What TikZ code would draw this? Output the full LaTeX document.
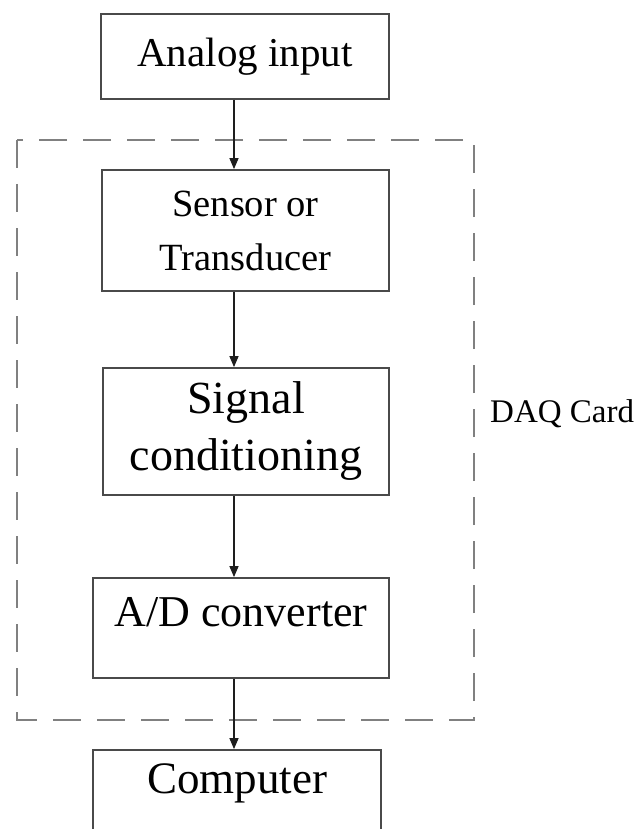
\documentclass[tikz,border=0pt]{standalone}
\usepackage{fontspec}
\setmainfont{Liberation Serif}
\usetikzlibrary{arrows.meta}
\definecolor{boxline}{HTML}{4A4A4A}
\definecolor{frameline}{HTML}{808080}
\definecolor{flowline}{HTML}{1E1E1E}
\begin{document}
\begin{tikzpicture}[x=1pt,y=-1pt,
  block/.style={draw=boxline, line width=1.8pt, inner sep=0pt, align=center, text=black},
  flow/.style={draw=flowline, line width=1.3pt, -{Triangle[length=11pt,width=9pt]}},
  daqframe/.style={draw=frameline, line width=2.6pt, dash pattern=on 28pt off 16pt}]
  \clip (0,0) rectangle (641,829);
  \fill[white] (0,0) rectangle (641,829);

  % DAQ card boundary
  \draw[daqframe] (17,140) rectangle (474,720);
  \node[anchor=base west, inner sep=0pt, font=\fontsize{33pt}{38pt}\selectfont] (daqlabel) at (490,422) {DAQ Card};

  % processing chain
  \node[block, minimum width=288pt, minimum height=85pt, font=\fontsize{41pt}{49pt}\selectfont] (ana) at (245,56.5) {Analog input};
  \node[block, minimum width=287pt, minimum height=121pt, font=\fontsize{38.5pt}{54pt}\selectfont] (sen) at (245.5,230.5) {Sensor or\\Transducer};
  \node[block, minimum width=286pt, minimum height=127pt, font=\fontsize{46pt}{57pt}\selectfont] (sig) at (246,431.5) {Signal\\conditioning};
  \node[block, minimum width=296pt, text height=48pt, text depth=52pt, anchor=base, font=\fontsize{44pt}{52pt}\selectfont] (adc) at (241,626) {A/D converter};
  \node[block, minimum width=288pt, text height=43pt, text depth=90pt, anchor=base, font=\fontsize{45pt}{54pt}\selectfont] (pc) at (237,793) {Computer};

  % signal path
  \coordinate (lane) at (234,0);
  \draw[flow] (ana.south -| lane) -- (sen.north -| lane);
  \draw[flow] (sen.south -| lane) -- (sig.north -| lane);
  \draw[flow] (sig.south -| lane) -- (adc.north -| lane);
  \draw[flow] (adc.south -| lane) -- (pc.north -| lane);
\end{tikzpicture}
\end{document}
